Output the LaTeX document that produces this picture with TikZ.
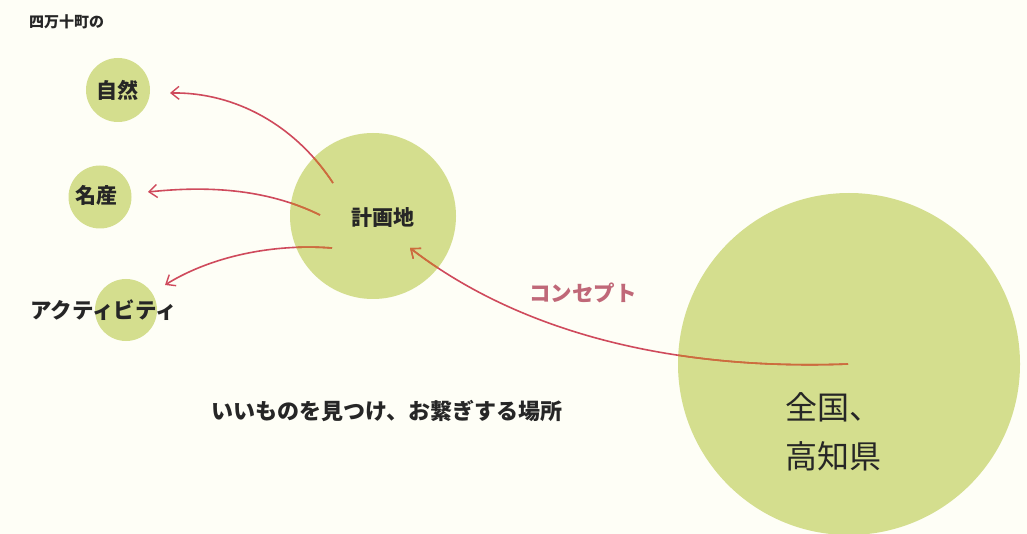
\documentclass[tikz,border=0pt]{standalone}
\usepackage{fontspec}
\setmainfont{Noto Sans CJK JP}
\usetikzlibrary{arrows.meta}
\definecolor{bg}{HTML}{FEFEF6}
\definecolor{leaf}{HTML}{D4DE8E}
\definecolor{arrowred}{HTML}{CF4A5C}
\definecolor{arrowor}{HTML}{CC6E3A}
\definecolor{pinktxt}{HTML}{C06878}
\definecolor{ink}{HTML}{262626}
\tikzset{
  bubble/.style={circle, fill=leaf, inner sep=0pt},
  lbl/.style={text=ink, font=\bfseries\fontsize{21}{21}\selectfont, inner sep=0pt},
  link/.style={draw=arrowred, line width=1.6pt, -{Straight Barb[length=8pt,width=13pt,line width=1.4pt]}},
  linkin/.style={draw=arrowor, line width=1.6pt},
}
\begin{document}
\begin{tikzpicture}[x=1pt,y=-1pt]
\fill[bg] (0,0) rectangle (1027,534);
\useasboundingbox (0,0) rectangle (1027,534);
% bubbles
\node[bubble, minimum size=64pt] (nat) at (118,90) {};
\node[bubble, minimum size=63pt] (prod) at (100,197) {};
\node[bubble, minimum size=62pt] (act) at (126,310) {};
\node[bubble, minimum size=166pt] (plan) at (373,216) {};
\node[bubble, minimum size=342pt] (nation) at (849,364) {};
% labels
\node[text=ink, font=\bfseries\fontsize{15}{15}\selectfont, anchor=west, inner sep=0pt] (title) at (29,22) {四万十町の};
\node[lbl] (natl) at (117,90) {自然};
\node[lbl] (prodl) at (96,195) {名産};
\node[lbl, anchor=west, font=\bfseries\fontsize{21.5}{21.5}\selectfont] (actl) at (30,310) {アクティビティ};
\node[lbl] (planl) at (383,218) {計画地};
\node[text=ink, font=\fontsize{32}{49}\selectfont, align=left, anchor=north west, inner sep=0pt] (nationl) at (785,392) {全国、\\高知県};
\node[text=pinktxt, font=\bfseries\fontsize{21.5}{21.5}\selectfont, inner sep=0pt] (concept) at (583,293) {コンセプト};
\node[text=ink, font=\bfseries\fontsize{22}{22}\selectfont, inner sep=0pt] (motto) at (387,411) {いいものを見つけ、お繋ぎする場所};
% arrow end points
\coordinate (s1) at (333,183);
\coordinate (t1) at (170,93);
\coordinate (s2) at (320,215);
\coordinate (t2) at (148,192);
\coordinate (s3) at (332,248);
\coordinate (t3) at (165,285);
\coordinate (s4) at (848,364);
\coordinate (t4) at (410,248);
% arrows
\draw[link] (s1) .. controls (295,125) and (235,92) .. (t1);
\draw[link] (s2) .. controls (265,188) and (205,186) .. (t2);
\draw[link] (s3) .. controls (265,243) and (205,260) .. (t3);
\draw[link] (s4) .. controls (690,370) and (530,340) .. (t4);
% parts over the bubbles
\begin{scope}
\clip (plan.center) circle (83);
\draw[linkin] (s1) .. controls (295,125) and (235,92) .. (t1);
\draw[linkin] (s2) .. controls (265,188) and (205,186) .. (t2);
\draw[linkin] (s3) .. controls (265,243) and (205,260) .. (t3);
\draw[linkin, -{Straight Barb[length=8pt,width=13pt,line width=1.4pt]}] (s4) .. controls (690,370) and (530,340) .. (t4);
\end{scope}
\begin{scope}
\clip (nation.center) circle (171);
\draw[linkin] (s4) .. controls (690,370) and (530,340) .. (t4);
\end{scope}
\end{tikzpicture}
\end{document}
